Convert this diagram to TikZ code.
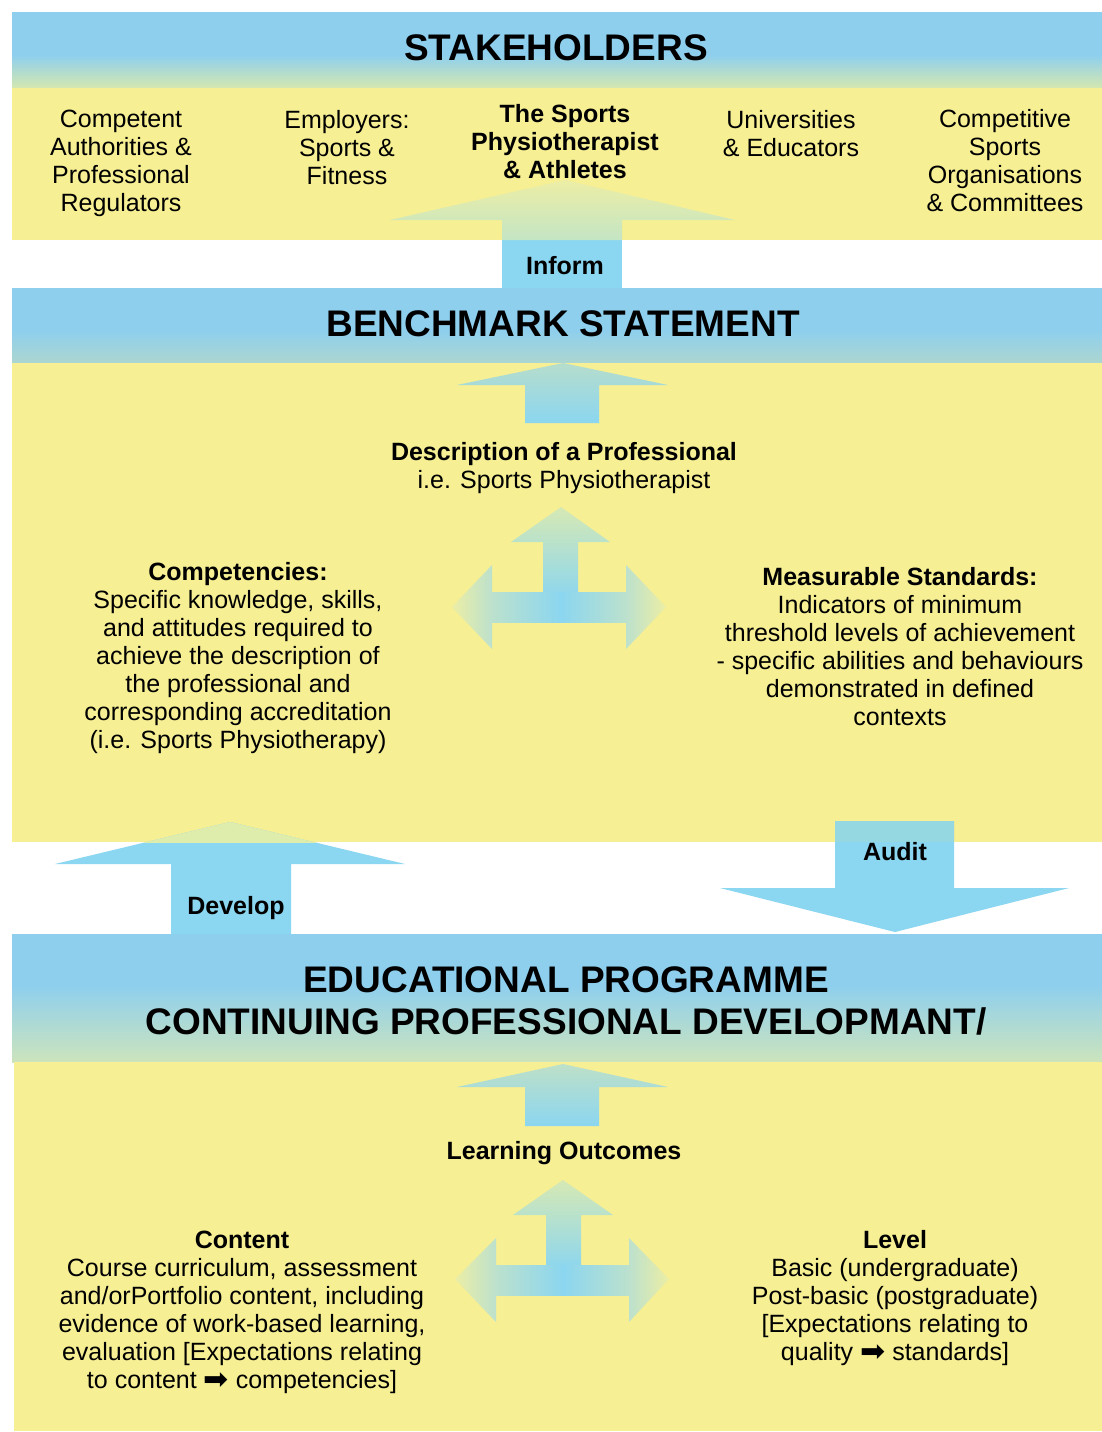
\documentclass[tikz,border=0pt]{standalone}
\usepackage{fontspec}
\setmainfont{Liberation Sans}
\newfontfamily\djv{DejaVu Sans}
\definecolor{blueH}{RGB}{142,207,238}
\definecolor{yel}{RGB}{246,239,148}
\definecolor{arrowblue}{RGB}{139,214,240}
\definecolor{fadeH}{RGB}{212,232,176}
\definecolor{fadeB}{RGB}{172,214,208}
\definecolor{fadeE}{RGB}{204,228,188}
\definecolor{tipyel}{RGB}{236,238,165}
\definecolor{midgreen}{RGB}{188,225,205}
\definecolor{infbase}{RGB}{196,229,196}
\definecolor{benchtop}{RGB}{182,221,204}
\definecolor{uptop}{RGB}{214,233,180}
\definecolor{devover}{RGB}{222,236,172}
\definecolor{audover}{RGB}{150,216,226}
\definecolor{edutop}{RGB}{190,224,200}
\newcommand{\fatarrow}{{\djv\fontsize{30}{28}\selectfont\raisebox{-1pt}{➡}}}
\begin{document}
\begin{tikzpicture}[x=1pt,y=-1pt,
  txt/.style={align=center,font=\fontsize{25}{28}\selectfont,inner sep=0pt,text=black},
  btxt/.style={txt,font=\fontsize{25}{28}\selectfont\bfseries},
  head/.style={align=center,font=\fontsize{37}{42}\selectfont\bfseries,inner sep=0pt}]
\useasboundingbox (0,0) rectangle (1102,1432);
\fill[white] (0,0) rectangle (1102,1432);
% ---------- stakeholders band
\fill[blueH] (12,12) rectangle (1102,55);
\shade[top color=blueH,bottom color=fadeH] (12,55) rectangle (1102,88);
\fill[yel] (12,88) rectangle (1102,240);
% ---------- benchmark band
\fill[blueH] (12,288) rectangle (1102,330);
\shade[top color=blueH,bottom color=fadeB] (12,330) rectangle (1102,363);
\fill[yel] (12,363) rectangle (1102,842);
% ---------- educational band
\fill[blueH] (12,934) rectangle (1102,985);
\shade[top color=blueH,bottom color=fadeE] (12,985) rectangle (1102,1062);
\fill[yel] (14,1062) rectangle (1102,1431);
% ---------- inform arrow
\fill[arrowblue] (502,240) rectangle (622,288);
\shade[top color=tipyel,bottom color=infbase] (390,220) -- (565,180) -- (735,220) -- (622,220) -- (622,240) -- (502,240) -- (502,220) -- cycle;
% ---------- benchmark up arrow
\shade[top color=benchtop,bottom color=arrowblue] (457,385) -- (563,363) -- (668,385) -- (599,385) -- (599,423) -- (525,423) -- (525,385) -- cycle;
% ---------- three-way arrow (upper)
\shade[top color=uptop,bottom color=arrowblue] (511,542) -- (561,507) -- (610,542) -- (578,542) -- (578,600) -- (543,600) -- (543,542) -- cycle;
\shade[left color=midgreen,right color=arrowblue] (492,592) rectangle (561,622);
\shade[left color=arrowblue,right color=midgreen] (561,592) rectangle (626,622);
\shade[left color=tipyel,right color=midgreen] (492,565) -- (452,607) -- (492,649) -- cycle;
\shade[left color=midgreen,right color=tipyel] (626,565) -- (666,607) -- (626,649) -- cycle;
% ---------- develop arrow
\fill[arrowblue] (55,864) -- (230,822) -- (405,864) -- (291,864) -- (291,934) -- (171,934) -- (171,864) -- cycle;
\begin{scope}
\clip (0,800) rectangle (1102,842);
\fill[devover] (55,864) -- (230,822) -- (405,864) -- cycle;
\end{scope}
% ---------- audit arrow
\fill[arrowblue] (835,821) -- (954,821) -- (954,888) -- (1069,888) -- (895,932) -- (720,888) -- (835,888) -- cycle;
\fill[audover] (835,821) rectangle (954,842);
% ---------- educational up arrow
\shade[top color=edutop,bottom color=arrowblue] (457,1087) -- (563,1064) -- (668,1087) -- (599,1087) -- (599,1126) -- (525,1126) -- (525,1087) -- cycle;
% ---------- three-way arrow (lower)
\shade[top color=uptop,bottom color=arrowblue] (513,1215) -- (563,1180) -- (613,1215) -- (581,1215) -- (581,1270) -- (546,1270) -- (546,1215) -- cycle;
\shade[left color=midgreen,right color=arrowblue] (496,1265) rectangle (563,1295);
\shade[left color=arrowblue,right color=midgreen] (563,1265) rectangle (629,1295);
\shade[left color=tipyel,right color=midgreen] (496,1238) -- (455,1279) -- (496,1322) -- cycle;
\shade[left color=midgreen,right color=tipyel] (629,1238) -- (669,1279) -- (629,1322) -- cycle;
% ---------- texts
\node[head] (stk) at (556,48) {STAKEHOLDERS};
\node[txt] (s1) at (121,163) {Competent\\Authorities \&\\Professional\\Regulators};
\node[txt] (s2) at (347,148) {Employers:\\Sports \&\\Fitness};
\node[btxt] (s3) at (565,142) {The Sports\\Physiotherapist\\\& Athletes};
\node[txt] (s4) at (791,134) {Universities\\\& Educators};
\node[txt] (s5) at (1005,161) {Competitive\\Sports\\Organisations\\\& Committees};
\node[btxt] (inform) at (565,266) {Inform};
\node[head] (bench) at (563,324) {BENCHMARK STATEMENT};
\node[txt] (desc) at (564,468) {\bfseries Description of a Professional\\i.e. Sports Physiotherapist};
\node[txt] (comp) at (238,658) {{\bfseries Competencies:}\\Specific knowledge, skills,\\and attitudes required to\\achieve the description of\\the professional and\\corresponding accreditation\\(i.e. Sports Physiotherapy)};
\node[txt] (meas) at (900,646.5) {{\bfseries Measurable Standards:}\\Indicators of minimum\\threshold levels of achievement\\- specific abilities and behaviours\\demonstrated in defined\\contexts};
\node[btxt] (develop) at (236,908) {Develop};
\node[btxt] (audit) at (895,852) {Audit};
\node[head] (edu) at (566,1001) {EDUCATIONAL PROGRAMME\\CONTINUING PROFESSIONAL DEVELOPMANT/};
\node[btxt] (lo) at (564,1153) {Learning Outcomes};
\node[txt] (content) at (242,1312.5) {{\bfseries Content}\\Course curriculum, assessment\\and/orPortfolio content, including\\evidence of work-based learning,\\evaluation {[}Expectations relating\\to content \fatarrow{} competencies{]}};
\node[txt] (level) at (895,1298.5) {{\bfseries Level}\\Basic (undergraduate)\\Post-basic (postgraduate)\\{[}Expectations relating to\\quality \fatarrow{} standards{]}};
\end{tikzpicture}
\end{document}
